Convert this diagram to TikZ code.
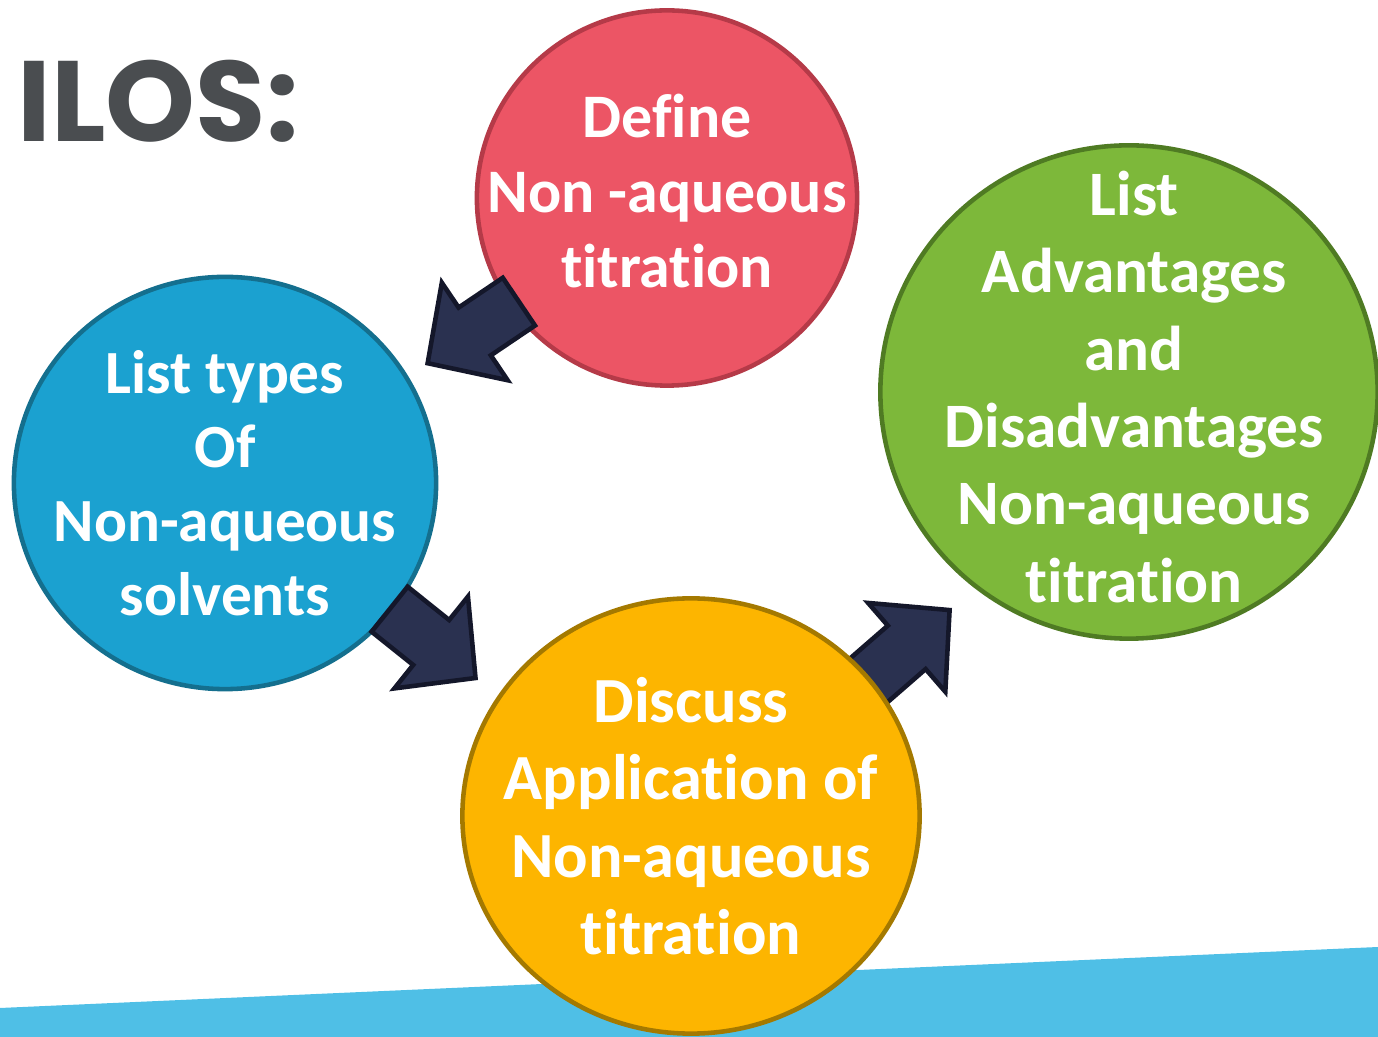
\documentclass[tikz,border=0pt]{standalone}
\usepackage{fontspec}
\setmainfont{Carlito}[Ligatures=NoCommon]
\newfontfamily\headfont{Poppins}
\usetikzlibrary{shapes.geometric,shapes.arrows}

\definecolor{headgray}{HTML}{4A4D50}
\definecolor{bandblue}{HTML}{4FBFE6}
\definecolor{redfill}{HTML}{EC5565}
\definecolor{reddraw}{HTML}{B53A48}
\definecolor{bluefill}{HTML}{1BA1D0}
\definecolor{bluedraw}{HTML}{146F8E}
\definecolor{greenfill}{HTML}{7DB83A}
\definecolor{greendraw}{HTML}{4F7B23}
\definecolor{orangefill}{HTML}{FDB500}
\definecolor{orangedraw}{HTML}{A47900}
\definecolor{arrowfill}{HTML}{2A3150}
\definecolor{arrowdraw}{HTML}{14172A}

\tikzset{
  topic/.style={ellipse, line width=1.3pt, inner sep=0pt},
  topictext/.style={inner sep=0pt, align=center, text=white,
    font=\bfseries\fontsize{18}{22}\selectfont},
  blockarrow/.style={single arrow, fill=arrowfill, draw=arrowdraw,
    line width=1.3pt, inner xsep=0pt, inner ysep=0.265cm,
    minimum width=1.13cm, minimum height=1.1cm, anchor=tip,
    single arrow head extend=0.3cm, single arrow tip angle=92}
}

\begin{document}
\begin{tikzpicture}[x=0.01cm, y=-0.01cm]
\useasboundingbox (0,0) rectangle (1378,1037);

% strip along the bottom
\fill[bandblue] (0,1008) -- (1378,947) -- (1378,1037) -- (0,1037) -- cycle;

\node[anchor=base west, inner sep=0pt, text=headgray,
  font=\headfont\bfseries\fontsize{32.5}{38}\selectfont] (ilos) at (17,142) {ILOS:};

% the four topics
\node[topic, fill=redfill, draw=reddraw, minimum width=3.8cm,
  minimum height=3.75cm] (define) at (667,198) {};
\node[topic, fill=bluefill, draw=bluedraw, minimum width=4.22cm,
  minimum height=4.12cm] (types) at (225,483) {};
\node[topic, fill=greenfill, draw=greendraw, minimum width=4.97cm,
  minimum height=4.93cm] (advant) at (1129,392) {};

% arrows, placed by their tips
\node[blockarrow, rotate=214] (arr1) at (425,365) {};
\node[blockarrow, rotate=-38.7] (arr2) at (478,680) {};
\node[blockarrow, rotate=41] (arr3) at (952,608) {};

\node[topic, fill=orangefill, draw=orangedraw, minimum width=4.57cm,
  minimum height=4.35cm] (discuss) at (691,816) {};

\node[topictext, font=\bfseries\fontsize{17.6}{21.3}\selectfont]
  (definetxt) at ([yshift=2pt]define.center)
  {Define\\Non -aqueous\\titration};
\node[topictext, font=\bfseries\fontsize{17.45}{21}\selectfont]
  (typestxt) at (types.center) {List types\\Of\\Non-aqueous\\solvents};
\node[topictext] (advanttxt) at ([xshift=1.5pt, yshift=1.5pt]advant.center)
  {List\\Advantages\\and\\Disadvantages\\Non-aqueous\\titration};
\node[topictext, font=\bfseries\fontsize{18.3}{22}\selectfont]
  (discusstxt) at (discuss.center)
  {Discuss\\Application of\\Non-aqueous\\titration};

\end{tikzpicture}
\end{document}
